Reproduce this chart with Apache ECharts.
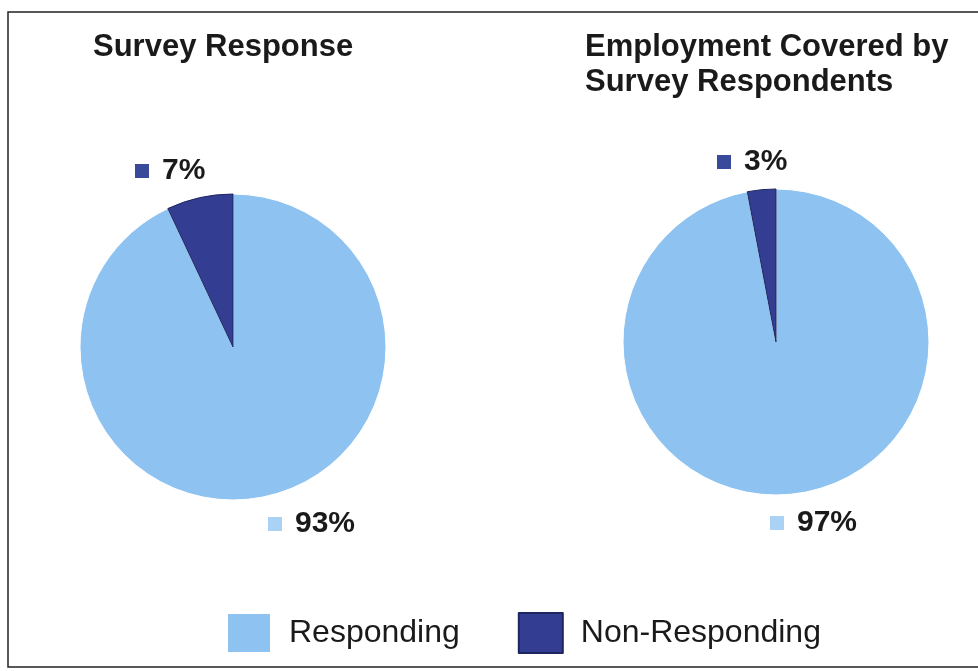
<!DOCTYPE html>
<html>
<head>
<meta charset="utf-8">
<script src="https://cdn.jsdelivr.net/npm/echarts@6/dist/echarts.min.js"></script>
<style>html,body{margin:0;padding:0;background:#fff;}#c{width:978px;height:671px;}</style>
</head>
<body>
<div id="c"></div>
<script>
var categories = ['Responding', 'Non-Responding'];
var surveyResponse = [93, 7];
var employmentCovered = [97, 3];
var titles = ['Survey Response', 'Employment Covered by\nSurvey Respondents'];

var colors = ['#8EC3F1', '#333E92'];
var markerColors = ['#A9D2F5', '#3A4A9A'];
var font = 'Liberation Sans, Arial, sans-serif';

var labelPos = [
  [[268, 524], [135, 171]],
  [[770, 523], [717, 162]]
];

function makeSeries(values, idx, center) {
  return {
    type: 'pie',
    center: center,
    radius: 153,
    startAngle: 90,
    clockwise: true,
    animation: false,
    silent: true,
    data: categories.map(function (n, i) {
      return {
        name: n, value: values[i],
        itemStyle: { color: colors[i], borderColor: i === 0 ? '#ffffff' : '#1E2660', borderWidth: 1 }
      };
    }),
    label: {
      show: true,
      position: 'outside',
      formatter: function (p) { return '{m' + p.dataIndex + '|}{v|' + p.value + '%}'; },
      rich: {
        m0: { width: 14, height: 14, backgroundColor: markerColors[0] },
        m1: { width: 14, height: 14, backgroundColor: markerColors[1] },
        v: { fontFamily: font, fontWeight: 'bold', fontSize: 30, color: '#1a1a1a', padding: [0, 0, 0, 13] }
      }
    },
    labelLine: { show: false },
    labelLayout: function (p) {
      var pos = labelPos[idx][p.dataIndex];
      return { x: pos[0], y: pos[1], align: 'left', verticalAlign: 'middle' };
    }
  };
}

var chart = echarts.init(document.getElementById('c'), null, { renderer: 'canvas' });
chart.setOption({
  backgroundColor: '#ffffff',
  animation: false,
  title: [
    { text: titles[0], left: 93, top: 32, padding: 0, textStyle: { fontFamily: font, fontWeight: 'bold', fontSize: 31, color: '#1a1a1a' } },
    { text: titles[1], left: 585, top: 30, padding: 0, textStyle: { fontFamily: font, fontWeight: 'bold', fontSize: 31, lineHeight: 35, color: '#1a1a1a' } }
  ],
  legend: {
    data: categories,
    left: 226,
    top: 612,
    padding: 0,
    icon: 'rect',
    itemWidth: 44,
    itemHeight: 40,
    itemGap: 58,
    selectedMode: false,
    textStyle: { fontFamily: font, fontSize: 32, color: '#1a1a1a', padding: [0, 0, 0, 13] }
  },
  graphic: [
    { type: 'rect', shape: { x: 8, y: 12, width: 985, height: 655 }, style: { fill: 'none', stroke: '#222', lineWidth: 1.5 }, silent: true }
  ],
  series: [
    makeSeries(surveyResponse, 0, [233, 347]),
    makeSeries(employmentCovered, 1, [776, 342])
  ]
});
</script>
</body>
</html>
